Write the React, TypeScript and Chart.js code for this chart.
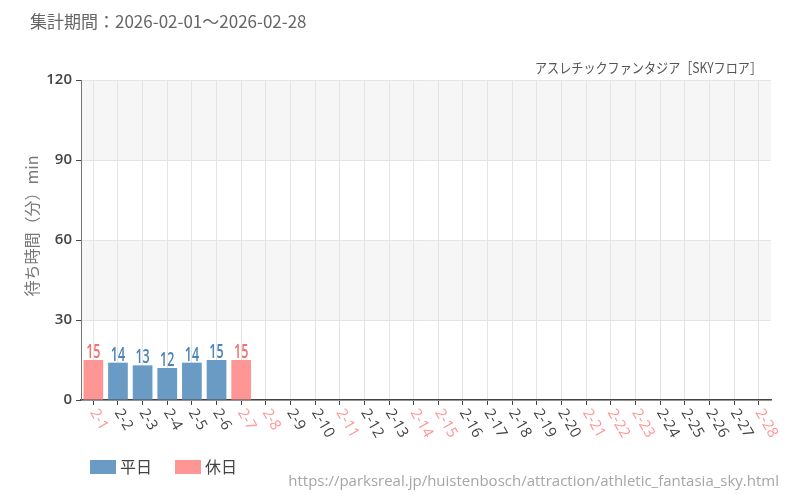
import { useEffect, useRef } from "react";
import { Chart, registerables } from "chart.js";
Chart.register(...registerables);

// ── Data ──────────────────────────────────────────────────────────────────────

const DAYS = [
  "2-1", "2-2", "2-3", "2-4", "2-5", "2-6", "2-7",
  "2-8", "2-9", "2-10", "2-11", "2-12", "2-13", "2-14",
  "2-15", "2-16", "2-17", "2-18", "2-19", "2-20", "2-21",
  "2-22", "2-23", "2-24", "2-25", "2-26", "2-27", "2-28",
];
const HOLIDAYS = ["2-1", "2-7", "2-8", "2-11", "2-14", "2-15", "2-21", "2-22", "2-23", "2-28"];

const WEEKDAY_WAIT = [
  null, 14, 13, 12, 14, 15, null,
  null, null, null, null, null, null, null,
  null, null, null, null, null, null, null,
  null, null, null, null, null, null, null,
];
const HOLIDAY_WAIT = [
  15, null, null, null, null, null, 15,
  null, null, null, null, null, null, null,
  null, null, null, null, null, null, null,
  null, null, null, null, null, null, null,
];

const PERIOD_TEXT = "集計期間：2026-02-01～2026-02-28";
const TITLE_TEXT = "アスレチックファンタジア［SKYフロア］";
const URL_TEXT = "https://parksreal.jp/huistenbosch/attraction/athletic_fantasia_sky.html";
const Y_TITLE = "待ち時間（分）min";

// ── Colours ───────────────────────────────────────────────────────────────────

const BLUE = "#6a9bc4";
const PINK = "#ff9696";
const BLUE_TXT = "#4a83b8";
const PINK_TXT = "#f27070";
const DARK = "#444444";
const BAND = "#f6f6f6";
const GRID = "#e4e4e4";

const LATIN = "'Open Sans', 'Noto Sans CJK JP', sans-serif";
const JP = "'Noto Sans CJK JP', 'Open Sans', sans-serif";

// ── Drawing plugin: bands, labels, legend, captions ──────────────────────────

const decorPlugin = {
  id: "decor",
  beforeDraw(chart: Chart) {
    const { ctx, chartArea } = chart;
    const y = chart.scales.y;
    ctx.save();
    ctx.fillStyle = BAND;
    [[30, 60], [90, 120]].forEach(([a, b]) => {
      const top = y.getPixelForValue(b);
      const bot = y.getPixelForValue(a);
      ctx.fillRect(chartArea.left, top, chartArea.right - chartArea.left, bot - top);
    });
    ctx.restore();
  },
  afterDraw(chart: Chart) {
    const { ctx } = chart;
    const x = chart.scales.x;
    ctx.save();

    // captions
    ctx.textBaseline = "middle";
    ctx.fillStyle = "#666";
    ctx.font = `17px ${JP}`;
    ctx.textAlign = "left";
    ctx.fillText(PERIOD_TEXT, 30, 22);
    ctx.fillStyle = "#555";
    ctx.font = `14px ${JP}`;
    ctx.textAlign = "right";
    ctx.fillText(TITLE_TEXT, 762, 68, 227);
    ctx.fillStyle = "#a6a6a6";
    ctx.font = `15px ${LATIN}`;
    ctx.fillText(URL_TEXT, 779, 482);

    // y axis title
    ctx.save();
    ctx.translate(32, 226);
    ctx.rotate(-Math.PI / 2);
    ctx.textAlign = "center";
    ctx.fillStyle = "#777";
    ctx.font = `16px ${JP}`;
    ctx.fillText(Y_TITLE, 0, 0, 146);
    ctx.restore();

    // rotated x labels
    ctx.font = `15px ${LATIN}`;
    ctx.textAlign = "left";
    (chart.data.labels as string[]).forEach((lab, i) => {
      const px = x.getPixelForTick(i);
      ctx.save();
      ctx.translate(px, x.top + 10);
      ctx.rotate(Math.PI / 3);
      ctx.fillStyle = HOLIDAYS.includes(lab) ? PINK : DARK;
      ctx.fillText(lab, 0, 0);
      ctx.restore();
    });

    // value labels above bars (condensed)
    ctx.font = `600 19px ${LATIN}`;
    ctx.textAlign = "center";
    ctx.textBaseline = "alphabetic";
    chart.data.datasets.forEach((ds, di) => {
      const meta = chart.getDatasetMeta(di);
      ctx.fillStyle = di === 0 ? BLUE_TXT : PINK_TXT;
      meta.data.forEach((el: any, j) => {
        const v = ds.data[j];
        if (v == null) return;
        ctx.save();
        ctx.translate(el.x, el.y - 2);
        ctx.scale(0.66, 1);
        ctx.fillText(String(v), 0, 0);
        ctx.restore();
      });
    });

    // legend
    let lx = 90;
    ctx.font = `16px ${JP}`;
    ctx.textAlign = "left";
    ctx.textBaseline = "middle";
    chart.data.datasets.forEach((ds) => {
      ctx.fillStyle = ds.backgroundColor as string;
      ctx.fillRect(lx, 460, 26, 14);
      ctx.fillStyle = DARK;
      ctx.fillText(ds.label as string, lx + 30, 467);
      lx += 30 + ctx.measureText(ds.label as string).width + 23;
    });

    ctx.restore();
  },
};

// ── Chart ─────────────────────────────────────────────────────────────────────

function WaitTimeChart() {
  const ref = useRef<HTMLCanvasElement>(null);
  const chartRef = useRef<Chart | null>(null);

  useEffect(() => {
    if (!ref.current) return;
    chartRef.current?.destroy();

    chartRef.current = new Chart(ref.current, {
      type: "bar",
      data: {
        labels: DAYS,
        datasets: [
          {
            label: "平日",
            data: WEEKDAY_WAIT,
            backgroundColor: BLUE,
            grouped: false,
            barPercentage: 0.8,
            categoryPercentage: 1,
          },
          {
            label: "休日",
            data: HOLIDAY_WAIT,
            backgroundColor: PINK,
            grouped: false,
            barPercentage: 0.8,
            categoryPercentage: 1,
          },
        ],
      },
      options: {
        animation: false,
        responsive: true,
        maintainAspectRatio: false,
        layout: { padding: { top: 80, right: 29, bottom: 95, left: 0 } },
        plugins: {
          legend: { display: false },
          tooltip: { enabled: false },
        },
        scales: {
          x: {
            offset: true,
            grid: { offset: false, color: GRID, tickColor: DARK, tickLength: 5 },
            border: { color: DARK, width: 1.5 },
            ticks: { display: false },
            afterFit: (s: any) => { s.height = 5; },
          },
          y: {
            min: 0,
            max: 120,
            ticks: {
              stepSize: 30,
              padding: 4,
              color: DARK,
              font: { family: LATIN, size: 15, weight: 600 },
            },
            grid: { color: GRID, tickColor: DARK, tickLength: 5 },
            border: { color: "#777" },
            afterFit: (s: any) => { s.width = 81; },
          },
        },
      },
      plugins: [decorPlugin],
    });

    return () => chartRef.current?.destroy();
  }, []);

  return <canvas ref={ref} />;
}

export default function App() {
  return (
    <div style={{ position: "fixed", left: 0, top: 0, width: 800, height: 500, background: "#fff" }}>
      <WaitTimeChart />
    </div>
  );
}
